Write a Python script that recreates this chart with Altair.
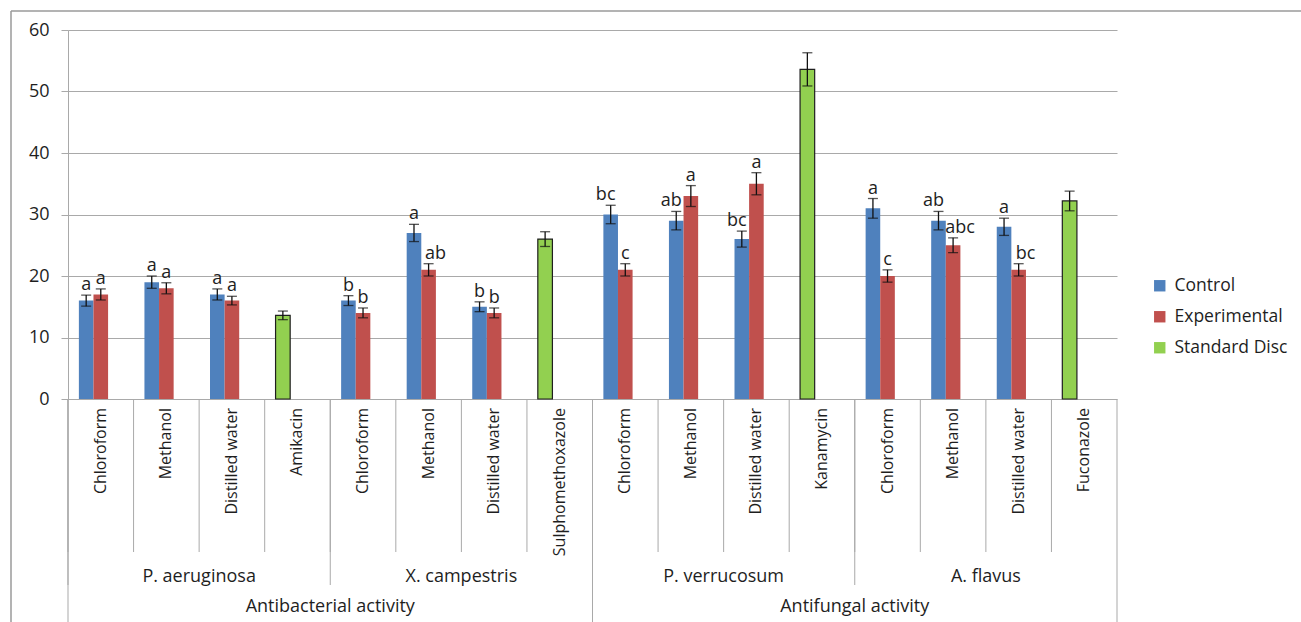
import altair as alt
import pandas as pd

# ---- data -------------------------------------------------------------
activities = ["Antibacterial activity", "Antifungal activity"]
organisms = ["P. aeruginosa", "X. campestris", "P. verrucosum", "A. flavus"]
solvents = ["Chloroform", "Methanol", "Distilled water"]
standards = ["Amikacin", "Sulphomethoxazole", "Kanamycin", "Fuconazole"]

# zone of inhibition (mm) per organism x solvent, in organism order
control = [16, 19, 17, 16, 27, 15, 30, 29, 26, 31, 29, 28]
control_err = [0.9, 1.0, 0.9, 0.8, 1.4, 0.8, 1.5, 1.5, 1.3, 1.6, 1.5, 1.4]
control_sig = ["a", "a", "a", "b", "a", "b", "bc", "ab", "bc", "a", "ab", "a"]

experimental = [17, 18, 16, 14, 21, 14, 21, 33, 35, 20, 25, 21]
experimental_err = [0.9, 0.9, 0.7, 0.8, 1.0, 0.8, 1.0, 1.7, 1.8, 1.0, 1.2, 1.0]
experimental_sig = ["a", "a", "a", "b", "ab", "b", "c", "a", "a", "c", "abc", "bc"]

standard = [13.6, 26, 53.6, 32.2]
standard_err = [0.7, 1.2, 2.7, 1.6]

series_names = ["Control", "Experimental", "Standard Disc"]
series_colors = ["#4F81BD", "#C0504D", "#92D050"]

FONT = "Open Sans"
TEXT = "#1e1e1e"
LINE = "#a9a9a9"

# ---- table ------------------------------------------------------------
keys, key_labels = [], []
rows = []
for o, org in enumerate(organisms):
    for s, solv in enumerate(solvents):
        k = f"{org} | {solv}"
        keys.append(k)
        key_labels.append(solv)
        i = o * 3 + s
        rows.append(dict(key=k, series="Control", slot="1", value=control[i],
                         err=control_err[i], sig=control_sig[i]))
        rows.append(dict(key=k, series="Experimental", slot="2", value=experimental[i],
                         err=experimental_err[i], sig=experimental_sig[i]))
    k = f"{org} | {standards[o]}"
    keys.append(k)
    key_labels.append(standards[o])
    rows.append(dict(key=k, series="Standard Disc", slot="1", value=standard[o],
                     err=standard_err[o], sig=""))

df = pd.DataFrame(rows)
df["lo"] = df["value"] - df["err"]
df["hi"] = df["value"] + df["err"]

cat_df = pd.DataFrame({"key": keys, "label": key_labels})

# separators under the axis: category, organism and activity boundaries
sep_rows = []
for i, k in enumerate(keys):
    if i % 8 == 0:
        level = "activity"
    elif i % 4 == 0:
        level = "organism"
    else:
        level = "category"
    sep_rows.append(dict(key=k, level=level))
sep_df = pd.DataFrame(sep_rows)
end_df = pd.DataFrame({"key": [keys[-1]]})

org_df = pd.DataFrame({"key": [keys[o * 4 + 1] for o in range(len(organisms))],
                       "name": organisms})
act_df = pd.DataFrame({"key": [keys[a * 8 + 3] for a in range(len(activities))],
                       "name": activities})

W, H = 1049, 369

xscale = alt.Scale(domain=keys, paddingInner=0, paddingOuter=0)
offscale = alt.Scale(domain=["1", "2", "3"], paddingInner=0, paddingOuter=0.745)
yscale = alt.Scale(domain=[0, 60], nice=False)


def X(band=None):
    if band is None:
        return alt.X("key:N", scale=xscale, axis=None)
    return alt.X("key:N", scale=xscale, axis=None, bandPosition=band)


XO = alt.XOffset("slot:N", scale=offscale)

bars = alt.Chart(df).mark_bar().encode(
    x=X(),
    xOffset=XO,
    y=alt.Y("value:Q", scale=yscale,
            axis=alt.Axis(values=[0, 10, 20, 30, 40, 50, 60], title=None,
                          grid=True, gridColor=LINE, gridWidth=1,
                          domainColor=LINE, tickColor=LINE, tickSize=7,
                          labelPadding=12, labelFontSize=18, labelFont=FONT,
                          labelColor=TEXT)),
    color=alt.Color("series:N",
                    scale=alt.Scale(domain=series_names, range=series_colors),
                    legend=alt.Legend(title=None)),
    stroke=alt.value("#1f1f1f"),
    strokeWidth=alt.condition("datum.series == 'Standard Disc'",
                              alt.value(1.2), alt.value(0)),
)

err_line = alt.Chart(df).mark_rule(color="#111111", strokeWidth=1.3).encode(
    x=X(), xOffset=XO, y=alt.Y("lo:Q", scale=yscale), y2="hi:Q")

cap_hi = alt.Chart(df).mark_tick(color="#111111", orient="horizontal",
                                 size=10, thickness=1.3).encode(
    x=X(), xOffset=XO, y=alt.Y("hi:Q", scale=yscale))
cap_lo = alt.Chart(df).mark_tick(color="#111111", orient="horizontal",
                                 size=10, thickness=1.3).encode(
    x=X(), xOffset=XO, y=alt.Y("lo:Q", scale=yscale))


# significance letters; longer ones are nudged apart so neighbours don't collide
def letter_layer(condition, dx):
    return alt.Chart(df).transform_filter(condition).mark_text(
        font=FONT, fontSize=18, color=TEXT, dy=-5, dx=dx, baseline="alphabetic"
    ).encode(x=X(), xOffset=XO, y=alt.Y("hi:Q", scale=yscale), text="sig:N")


letters_short = letter_layer("length(datum.sig) == 1", 0)
letters_ctrl = letter_layer("length(datum.sig) > 1 && datum.series == 'Control'", -5)
letters_exp = letter_layer("length(datum.sig) > 1 && datum.series == 'Experimental'", 7)

cat_labels = alt.Chart(cat_df).mark_text(
    font=FONT, fontSize=16, color=TEXT, angle=270, align="right",
    baseline="middle", dx=2
).encode(x=X(0.5), y=alt.value(H + 11), text="label:N")

sep_cat = alt.Chart(sep_df).mark_rule(color=LINE, strokeWidth=1).encode(
    x=X(0), y=alt.value(H), y2=alt.value(H + 153))
sep_org = alt.Chart(sep_df).transform_filter("datum.level != 'category'").mark_rule(
    color=LINE, strokeWidth=1).encode(x=X(0), y=alt.value(H), y2=alt.value(H + 186))
sep_act = alt.Chart(sep_df).transform_filter("datum.level == 'activity'").mark_rule(
    color=LINE, strokeWidth=1).encode(x=X(0), y=alt.value(H), y2=alt.value(H + 230))
sep_end = alt.Chart(end_df).mark_rule(color=LINE, strokeWidth=1).encode(
    x=X(1), y=alt.value(H), y2=alt.value(H + 230))

org_labels = alt.Chart(org_df).mark_text(
    font=FONT, fontSize=18, color=TEXT, baseline="middle"
).encode(x=X(1), y=alt.value(H + 178), text="name:N")
act_labels = alt.Chart(act_df).mark_text(
    font=FONT, fontSize=18, color=TEXT, baseline="middle"
).encode(x=X(1), y=alt.value(H + 208), text="name:N")

# thin frame on the top and left of the figure
frame_top = alt.Chart(end_df).mark_rule(color="#9a9a9a", strokeWidth=1.5).encode(
    x=alt.value(-57), x2=alt.value(W + 200), y=alt.value(-19))
frame_left = alt.Chart(end_df).mark_rule(color="#9a9a9a", strokeWidth=1.5).encode(
    x=alt.value(-57), y=alt.value(-19), y2=alt.value(H + 240))

chart = alt.layer(
    frame_top, frame_left,
    sep_cat, sep_org, sep_act, sep_end,
    bars, err_line, cap_hi, cap_lo,
    letters_short, letters_ctrl, letters_exp,
    cat_labels, org_labels, act_labels,
).properties(
    width=W, height=H,
    autosize=alt.AutoSizeParams(type="none"),
    padding={"left": 68, "top": 30, "right": 184, "bottom": 223},
    background="white",
).configure_view(strokeWidth=0).configure_legend(
    orient="none", legendX=1083, legendY=247,
    symbolType="square", symbolSize=130, symbolStrokeWidth=0,
    labelFont=FONT, labelFontSize=17.5, labelColor=TEXT,
    rowPadding=12, labelOffset=6,
)

chart.save("out.html", embed_options={"renderer": "svg", "actions": False})
